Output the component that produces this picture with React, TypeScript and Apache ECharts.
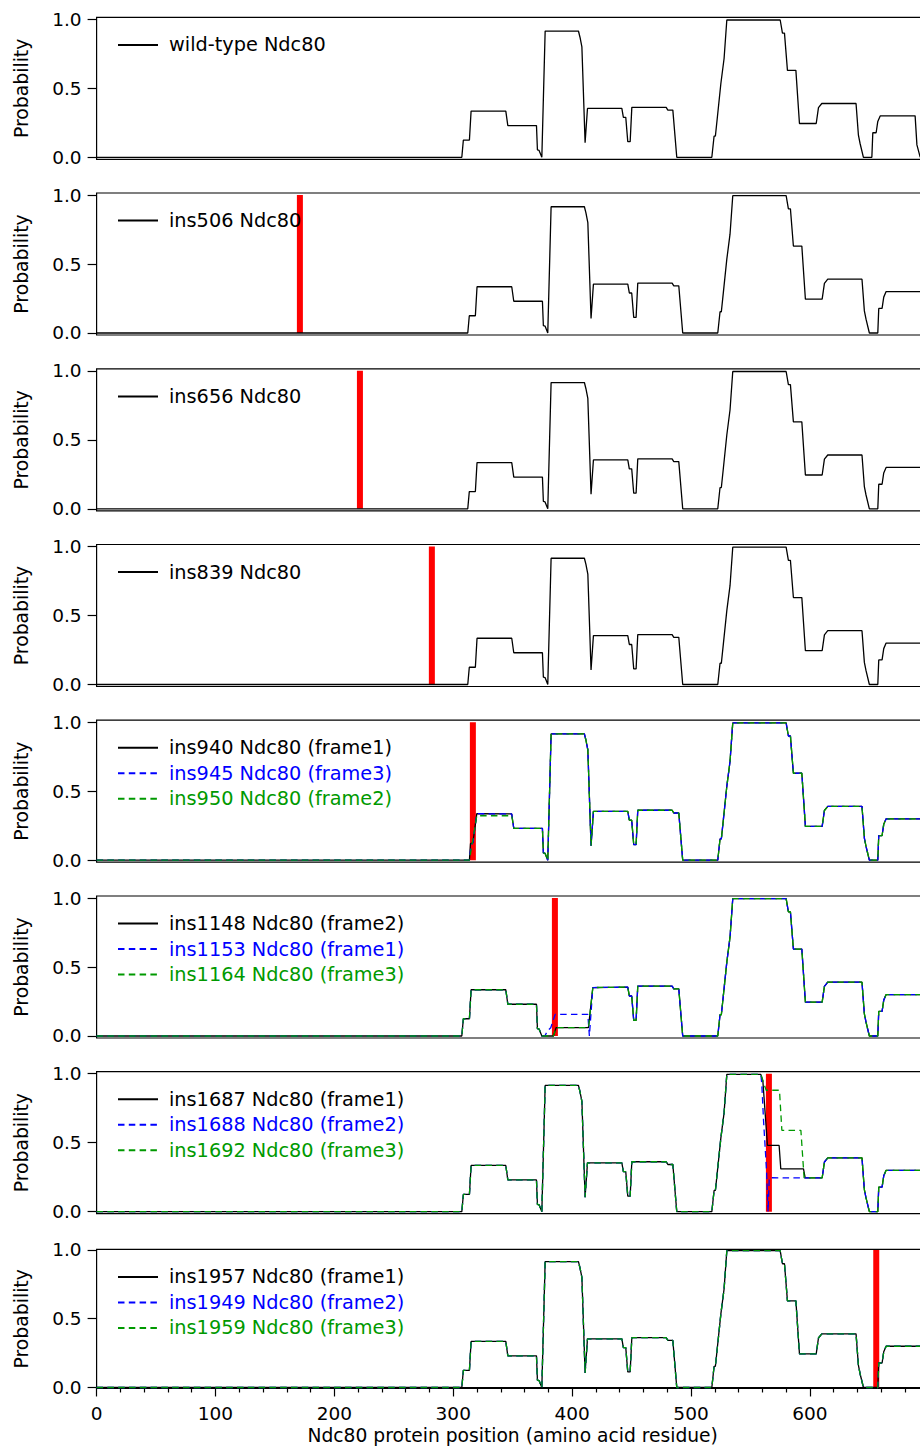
import React, { useEffect, useRef } from "react";
import * as echarts from "echarts";

type Pt = [number, number];

// Wild-type Ndc80 coiled-coil probability profile (residue, probability)
const WT: Pt[] = [
  [0, 0], [307.2, 0], [308.5, 0.125], [313.6, 0.125], [315.0, 0.335], [344.2, 0.335],
  [345.9, 0.23], [370.0, 0.23], [370.8, 0.053], [372.2, 0.05], [374.5, 0], [377.3, 0.915],
  [405.3, 0.915], [406.6, 0.87], [408.2, 0.8], [410.9, 0.105], [412.9, 0.354], [441.8, 0.354],
  [443.1, 0.29], [445.1, 0.29], [446.8, 0.113], [448.8, 0.113], [450.2, 0.362], [479.1, 0.362],
  [480.5, 0.342], [484.7, 0.342], [488.0, 0], [517.5, 0], [519.4, 0.154], [520.5, 0.154],
  [522.2, 0.294], [525.1, 0.535], [527.8, 0.716], [530.1, 0.995], [575.0, 0.995], [576.9, 0.9],
  [578.6, 0.9], [581.1, 0.63], [588.2, 0.63], [591.2, 0.245], [605.3, 0.245], [607.2, 0.36],
  [610.0, 0.39], [638.8, 0.39], [640.8, 0.16], [642.2, 0.1], [645.0, 0], [652.1, 0],
  [652.9, 0.178], [655.7, 0.178], [657.1, 0.26], [659.1, 0.3], [688.5, 0.3], [690.0, 0.09],
  [692.8, 0],
];

const INS: Pt[] = [
  [0, 0], [312.2, 0], [313.5, 0.125], [318.6, 0.125], [320.0, 0.335], [349.2, 0.335],
  [350.9, 0.23], [375.0, 0.23], [375.8, 0.053], [377.2, 0.05], [379.5, 0], [382.3, 0.915],
  [410.3, 0.915], [411.6, 0.87], [413.2, 0.8], [415.9, 0.105], [417.9, 0.354], [446.8, 0.354],
  [448.1, 0.29], [450.1, 0.29], [451.8, 0.113], [453.8, 0.113], [455.2, 0.362], [484.1, 0.362],
  [485.5, 0.342], [489.7, 0.342], [493.0, 0], [522.5, 0], [524.4, 0.154], [525.5, 0.154],
  [527.2, 0.294], [530.1, 0.535], [532.8, 0.716], [535.1, 0.995], [580.0, 0.995], [581.9, 0.9],
  [583.6, 0.9], [586.1, 0.63], [593.2, 0.63], [596.2, 0.245], [610.3, 0.245], [612.2, 0.36],
  [615.0, 0.39], [643.8, 0.39], [645.8, 0.16], [647.2, 0.1], [650.0, 0], [657.1, 0],
  [657.9, 0.178], [660.7, 0.178], [662.1, 0.26], [664.1, 0.3], [693.5, 0.3], [695.0, 0.09],
  [697.8, 0],
];

// Local profiles around the insertion sites
const P5_BLACK: Pt[] = [[313.6, 0], [314.5, 0.12], [316.5, 0.125], [319.8, 0.337]];
const P5_BLUE: Pt[] = [[313.6, 0], [314.8, 0.1], [316.6, 0.13], [319.8, 0.337]];
const P5_GREEN: Pt[] = [[313.6, 0], [315.5, 0.1], [317.5, 0.2], [319.8, 0.322], [349.2, 0.322]];
const P6_BLACK: Pt[] = [[384.3, 0], [386.5, 0.061], [413.7, 0.061], [417.4, 0.351]];
const P6_BLUE: Pt[] = [[377.0, 0], [379.5, 0.04], [382.0, 0.06], [385.7, 0.157], [413.2, 0.157], [414.5, 0], [417.4, 0.351]];
const P6_GREEN: Pt[] = [[384.3, 0], [386.5, 0.061], [413.7, 0.061], [417.4, 0.351]];
const P7_BLACK: Pt[] = [[558.7, 0.995], [560.4, 0.95], [564.3, 0.48], [574.1, 0.48], [575.5, 0.31], [594.6, 0.31], [596.0, 0.246]];
const P7_BLUE: Pt[] = [[558.7, 0.995], [559.5, 0.93], [561.0, 0.66], [563.5, 0.3], [564.8, 0], [565.8, 0.246]];
const P7_GREEN: Pt[] = [[558.7, 0.995], [560.4, 0.95], [563.2, 0.88], [574.4, 0.88], [576.4, 0.59], [592.4, 0.59], [595.1, 0.246]];

// Insertion sites (residue position of the red bar), null for wild type
const INSERTION_SITES: (number | null)[] = [null, 171, 221.5, 282, 316.5, 385.5, 565.5, 655.8];

// Per-panel series: name, colour key, splice (WT up to a, patch, INS from b)
type Spec = { name: string; kind: "k" | "b" | "g"; a: number; patch: Pt[]; b: number };
const PANEL_SERIES: Spec[][] = [
  [{ name: "wild-type Ndc80", kind: "k", a: 9999, patch: [], b: 9999 }],
  [{ name: "ins506 Ndc80", kind: "k", a: 300, patch: [], b: 310 }],
  [{ name: "ins656 Ndc80", kind: "k", a: 300, patch: [], b: 310 }],
  [{ name: "ins839 Ndc80", kind: "k", a: 300, patch: [], b: 310 }],
  [
    { name: "ins940 Ndc80 (frame1)", kind: "k", a: 307.2, patch: P5_BLACK, b: 321 },
    { name: "ins945 Ndc80 (frame3)", kind: "b", a: 307.2, patch: P5_BLUE, b: 321 },
    { name: "ins950 Ndc80 (frame2)", kind: "g", a: 307.2, patch: P5_GREEN, b: 350 },
  ],
  [
    { name: "ins1148 Ndc80 (frame2)", kind: "k", a: 374.5, patch: P6_BLACK, b: 418 },
    { name: "ins1153 Ndc80 (frame1)", kind: "b", a: 374.5, patch: P6_BLUE, b: 418 },
    { name: "ins1164 Ndc80 (frame3)", kind: "g", a: 374.5, patch: P6_GREEN, b: 418 },
  ],
  [
    { name: "ins1687 Ndc80 (frame1)", kind: "k", a: 531, patch: P7_BLACK, b: 597 },
    { name: "ins1688 Ndc80 (frame2)", kind: "b", a: 531, patch: P7_BLUE, b: 597 },
    { name: "ins1692 Ndc80 (frame3)", kind: "g", a: 531, patch: P7_GREEN, b: 597 },
  ],
  [
    { name: "ins1957 Ndc80 (frame1)", kind: "k", a: 647, patch: [], b: 650 },
    { name: "ins1949 Ndc80 (frame2)", kind: "b", a: 647, patch: [], b: 650 },
    { name: "ins1959 Ndc80 (frame3)", kind: "g", a: 647, patch: [], b: 650 },
  ],
];

const Y_TICKS = [0, 0.5, 1];
const X_TITLE = "Ndc80 protein position (amino acid residue)";
const Y_TITLE = "Probability";

const COLORS = { k: "#000000", b: "#0000ff", g: "#009900" };
const FONT = "DejaVu Sans";

const PANEL_TOPS = [17.3, 193.0, 368.8, 544.5, 720.2, 896.0, 1071.7, 1249.3];
const PANEL_H = [142, 142, 142, 142, 142, 142, 142, 139];
const Y_MIN = [-0.0145, -0.0145, -0.0145, -0.0145, -0.0145, -0.0145, -0.0145, -0.006];
const Y_MAX = [1.0145, 1.0145, 1.0145, 1.0145, 1.0145, 1.0145, 1.0145, 1.005];

function splice(s: Spec): Pt[] {
  return [...WT.filter((p) => p[0] <= s.a), ...s.patch, ...INS.filter((p) => p[0] >= s.b)];
}

export default function App() {
  const ref = useRef<HTMLDivElement>(null);
  useEffect(() => {
    if (!ref.current) return;
    const chart = echarts.init(ref.current, null, { renderer: "svg" });
    const n = PANEL_TOPS.length;
    const grid = PANEL_TOPS.map((t, i) => ({
      left: 96.6,
      top: t,
      width: 832.2,
      height: PANEL_H[i],
      show: true,
      borderColor: "#000",
      borderWidth: 1.2,
      backgroundColor: "transparent",
      containLabel: false,
      outerBoundsMode: "none",
    }));
    const last = n - 1;
    const xAxis = PANEL_TOPS.map((_, i) => ({
      type: "value",
      gridIndex: i,
      min: 0,
      max: 700,
      interval: 100,
      axisLine: { show: i === last, lineStyle: { color: "#000", width: 1.2 } },
      axisTick: { show: i === last, length: 9, lineStyle: { color: "#000", width: 1.2 } },
      minorTick: { show: i === last, splitNumber: 5, length: 5, lineStyle: { color: "#000", width: 1.2 } },
      axisLabel: {
        show: i === last,
        showMaxLabel: false,
        fontSize: 18.5,
        fontFamily: FONT,
        color: "#000",
        margin: 16,
      },
      splitLine: { show: false },
      minorSplitLine: { show: false },
      name: i === last ? X_TITLE : "",
      nameLocation: "middle",
      nameGap: 38,
      nameTextStyle: { fontSize: 18.7, fontFamily: FONT, color: "#000" },
    }));
    const yAxis = PANEL_TOPS.map((_, i) => ({
      type: "value",
      gridIndex: i,
      min: Y_MIN[i],
      max: Y_MAX[i],
      axisLine: { show: false },
      axisTick: { show: true, length: 9, customValues: Y_TICKS, lineStyle: { color: "#000", width: 1.2 } },
      axisLabel: {
        customValues: Y_TICKS,
        formatter: (v: number) => v.toFixed(1),
        fontSize: 18.5,
        fontFamily: FONT,
        color: "#000",
        margin: 15,
      },
      splitLine: { show: false },
      name: Y_TITLE,
      nameLocation: "middle",
      nameGap: 66,
      nameTextStyle: { fontSize: 18.8, fontFamily: FONT, color: "#000" },
    }));
    const series: any[] = [];
    const legend: any[] = [];
    PANEL_SERIES.forEach((specs, i) => {
      const site = INSERTION_SITES[i];
      if (site !== null) {
        series.push({
          type: "line",
          name: "insertion-" + i,
          xAxisIndex: i,
          yAxisIndex: i,
          data: [[site, 0], [site, 1]],
          symbol: "none",
          lineStyle: { color: "#ff0000", width: 6, cap: "butt" },
          z: 1,
          silent: true,
        });
      }
      specs.forEach((s, j) => {
        series.push({
          type: "line",
          name: s.name,
          xAxisIndex: i,
          yAxisIndex: i,
          data: splice(s),
          symbol: "none",
          showSymbol: false,
          itemStyle: { color: COLORS[s.kind] },
          lineStyle: {
            color: COLORS[s.kind],
            width: 1.3,
            type: s.kind === "k" ? "solid" : [6.5, 4.3],
          },
          z: 2 + j,
          silent: true,
        });
      });
      legend.push({
        left: 117,
        top: PANEL_TOPS[i] + 17.6,
        orient: "vertical",
        itemWidth: 40,
        itemHeight: 14,
        itemGap: 5.5,
        padding: 0,
        selectedMode: false,
        itemStyle: { opacity: 0 },
        textStyle: { fontSize: 19.3, fontFamily: FONT, lineHeight: 20, padding: [0, 0, 0, 6], color: "#000" },
        data: specs.map((s) => ({ name: s.name, textStyle: { color: COLORS[s.kind] } })),
      });
    });
    chart.setOption({
      animation: false,
      backgroundColor: "#ffffff",
      grid,
      xAxis,
      yAxis,
      legend,
      series,
    } as any);
    return () => chart.dispose();
  }, []);
  return (
    <div
      ref={ref}
      style={{ position: "absolute", left: 0, top: 0, width: 920, height: 1450 }}
    />
  );
}
